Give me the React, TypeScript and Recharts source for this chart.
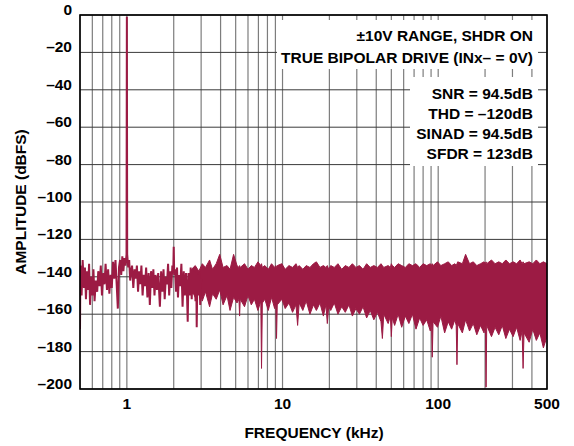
import React from 'react';
import { ComposedChart, Line, Area, XAxis, YAxis, CartesianGrid } from 'recharts';

// low-frequency part of the FFT, drawn as a single trace (kHz, dBFS)
const lineFreq = [
  0.5, 0.503, 0.512, 0.52, 0.53, 0.538, 0.546, 0.555, 0.563, 0.572, 0.58, 0.59, 0.6, 0.61, 0.62,
  0.632, 0.645, 0.655, 0.668, 0.68, 0.692, 0.705, 0.718, 0.73, 0.745, 0.758, 0.772, 0.786, 0.8,
  0.815, 0.83, 0.845, 0.86, 0.875, 0.89, 0.905, 0.92, 0.935, 0.95, 0.965, 0.98, 0.995, 1.0, 1.005,
  1.02, 1.035, 1.05, 1.065, 1.08, 1.1, 1.12, 1.14, 1.16, 1.18, 1.2, 1.22, 1.24, 1.262, 1.285,
  1.308, 1.33, 1.355, 1.38, 1.405, 1.43, 1.455, 1.48, 1.505, 1.53, 1.56, 1.59, 1.63, 1.66, 1.69,
  1.72, 1.75, 1.78, 1.81, 1.84, 1.87, 1.9, 1.93, 1.96, 1.985, 2.0, 2.015, 2.04, 2.07, 2.1, 2.13,
  2.16, 2.2, 2.24, 2.28, 2.32, 2.36, 2.4, 2.43, 2.46, 2.49, 2.53, 2.57, 2.61, 2.65, 2.69, 2.73,
  2.76, 2.79, 2.81, 2.84, 2.88, 2.92, 2.96, 3.0,
];
const lineAmp = [
  -168, -134, -150, -131, -146, -135, -152, -137, -147, -133, -155, -140, -150, -136, -153,
  -142, -148, -137, -145, -134, -150, -138, -144, -133, -147, -136, -149, -139, -146,
  -132, -141, -131, -144, -157, -135, -131, -139, -129, -137, -130, -134, -128, -1, -128,
  -135, -131, -142, -137, -134, -146, -136, -141, -134, -148, -137, -144, -134, -150, -139,
  -145, -135, -151, -138, -155, -137, -146, -136, -150, -139, -147, -138, -156, -137, -148,
  -136, -152, -140, -144, -133, -150, -137, -146, -134, -138, -124, -139, -136, -148, -135, -151,
  -139, -145, -133, -156, -137, -150, -138, -147, -164, -138, -150, -135, -152, -136, -149, -137,
  -153, -138, -167, -139, -150, -137, -155, -141,
];

// dense part of the spectrum: upper and lower envelope of the noise floor
const bandFreq = [
  2.6, 2.75, 2.9, 3.05, 3.2, 3.4, 3.55, 3.75, 3.95, 4.15, 4.4, 4.6, 4.85, 5.1, 5.25, 5.3, 5.35,
  5.7, 6.0, 6.3, 6.6, 6.95, 7.25, 7.33, 7.42, 7.7, 8.1, 8.5, 8.9, 9.05, 9.15, 9.25, 9.9, 10.4,
  11.0, 11.6, 12.2, 12.5, 12.8, 13.5, 14.2, 15.0, 15.8, 16.5, 17.4, 18.3, 19.0, 19.4, 19.8, 20.4,
  21.5, 22.7, 24, 25.3, 26.7, 28.1, 29.6, 31.2, 32.9, 34.7, 36.6, 38.6, 40.7, 42.9, 43.8, 44.7,
  47.7, 49.3, 50, 50.7, 52.5, 55.3, 58.3, 61.5, 64.8, 68.3, 72, 76, 80, 84.4, 89, 90.5, 91.6,
  92.7, 99, 104, 110, 116, 122, 128, 130.5, 132, 133.5, 143, 150, 159, 168, 177, 187, 197, 201,
  203, 205, 220, 232, 245, 258, 272, 287, 303, 319, 336, 346, 351, 356, 384, 405, 427, 450, 474,
  500,
];
const bandHi = [
  -136, -134, -137, -133, -135, -131, -136, -133, -128, -135, -134, -136, -128, -134, -135, -134, -135,
  -133, -136, -134, -135, -132, -134, -133, -135, -134, -136, -133, -135, -134, -135, -134, -133, -136,
  -134, -135, -133, -135, -134, -136, -134, -135, -133, -132, -135, -134, -135, -134, -136, -134,
  -135, -133, -136, -134, -135, -133, -135, -134, -136, -133, -135, -134, -135, -133, -134, -135,
  -134, -135, -133, -134, -135, -133, -134, -135, -133, -134, -133, -135, -133, -134, -133, -134, -133,
  -134, -132, -134, -133, -132, -134, -133, -134, -133, -132, -133, -128, -133, -132, -134, -133, -132, -133,
  -132, -133, -131, -133, -132, -133, -131, -133, -132, -133, -131, -133, -132, -133, -132, -133, -131, -133, -132,
  -133,
];
const bandLo = [
  -147, -151, -146, -153, -148, -156, -149, -152, -147, -155, -150, -158, -151, -154, -152, -161, -152,
  -156, -150, -155, -152, -158, -153, -189, -154, -152, -158, -151, -157, -154, -173, -155, -152, -157,
  -154, -159, -155, -166, -154, -158, -153, -160, -155, -158, -154, -161, -155, -165, -156, -158,
  -154, -160, -156, -159, -155, -161, -157, -160, -156, -162, -158, -163, -159, -164, -173, -160,
  -165, -161, -172, -162, -166, -160, -167, -161, -165, -160, -168, -162, -166, -163, -169, -162, -183,
  -164, -167, -161, -170, -164, -168, -163, -166, -187, -165, -170, -163, -169, -165, -171, -166, -170, -165,
  -199, -166, -172, -167, -171, -166, -173, -168, -172, -167, -174, -169, -189, -170, -175, -168, -174, -170, -178,
  -172,
];

const yTicks = [-200, -180, -160, -140, -120, -100, -80, -60, -40, -20, 0];
const xTicks = [0.6, 0.7, 0.8, 0.9, 1, 2, 3, 4, 5, 6, 7, 8, 9, 10, 20, 30, 40, 50, 60, 70, 80, 90, 100, 200, 300, 400, 500];
const xLabels = [1, 10, 100, 500];

const notesTop = ['±10V RANGE, SHDR ON', 'TRUE BIPOLAR DRIVE (INx– = 0V)'];
const notesStats = ['SNR = 94.5dB', 'THD = –120dB', 'SINAD = 94.5dB', 'SFDR = 123dB'];

const rows = [
  ...lineFreq.map((f, i) => ({ f, v: lineAmp[i] })),
  ...bandFreq.map((f, i) => ({ f, band: [bandLo[i], bandHi[i]] })),
].sort((a, b) => a.f - b.f);

const FONT = "'Liberation Sans', Arial, sans-serif";
const TRACE = '#9c1b44';

const XTick = (props: any) => {
  const { x, y, payload } = props;
  if (!xLabels.includes(payload.value)) return <g />;
  return (
    <text x={x} y={y + 20} textAnchor="middle" fontFamily={FONT} fontWeight="bold" fontSize={15.5} fill="#000">
      {payload.value}
    </text>
  );
};

const YTick = (props: any) => {
  const { x, y, payload } = props;
  const label = payload.value === 0 ? '0' : '–' + Math.abs(payload.value);
  return (
    <text x={x - 8} y={y} textAnchor="end" fontFamily={FONT} fontWeight="bold" fontSize={15.5} fill="#000">
      {label}
    </text>
  );
};

export default function App() {
  const txt = { fontFamily: FONT, fontWeight: 'bold' as const, fontSize: 15.5, fill: '#000' };
  return (
    <div style={{ position: 'absolute', left: 0, top: 0, width: 574, height: 446, background: '#fff' }}>
      <ComposedChart width={574} height={446} data={rows} margin={{ top: 15, right: 27, bottom: 17, left: 10 }}>
        <CartesianGrid horizontal={false} stroke="#7d7d7d" strokeWidth={1.2} />
        <CartesianGrid vertical={false} stroke="#3a3a3a" strokeWidth={1} />
        <XAxis
          dataKey="f"
          type="number"
          scale="log"
          domain={[0.5, 500]}
          ticks={xTicks}
          interval={0}
          allowDataOverflow
          height={40}
          tickLine={false}
          axisLine={false}
          tickSize={0}
          tickMargin={0}
          tick={<XTick />}
        />
        <YAxis
          type="number"
          domain={[-200, 0]}
          ticks={yTicks}
          interval={0}
          allowDataOverflow
          width={70}
          tickLine={false}
          axisLine={false}
          tickSize={0}
          tickMargin={0}
          tick={<YTick />}
        />
        <Area
          dataKey="band"
          type="linear"
          fill={TRACE}
          fillOpacity={1}
          stroke={TRACE}
          strokeWidth={1}
          connectNulls
          dot={false}
          activeDot={false}
          isAnimationActive={false}
        />
        <Line
          dataKey="v"
          type="linear"
          stroke={TRACE}
          strokeWidth={2}
          connectNulls
          dot={false}
          activeDot={false}
          isAnimationActive={false}
        />
      </ComposedChart>
      <svg width={574} height={446} style={{ position: 'absolute', left: 0, top: 0, pointerEvents: 'none' }}>
        <rect x={277} y={20} width={261} height={49} fill="#fff" />
        <rect x={410} y={77} width={128} height={89} fill="#fff" />
        {notesTop.map((t, i) => (
          <text key={t} x={533} y={40.5 + i * 22} textAnchor="end" {...txt}>{t}</text>
        ))}
        {notesStats.map((t, i) => (
          <text key={t} x={533} y={98.5 + i * 20.3} textAnchor="end" {...txt}>{t}</text>
        ))}
        <rect x={80} y={15} width={467} height={374} fill="none" stroke="#000" strokeWidth={1.6} />
        <text x={314} y={437.5} textAnchor="middle" {...txt}>FREQUENCY (kHz)</text>
        <text x={25.5} y={202} textAnchor="middle" transform="rotate(-90 25.5 202)" {...txt}>AMPLITUDE (dBFS)</text>
      </svg>
    </div>
  );
}
